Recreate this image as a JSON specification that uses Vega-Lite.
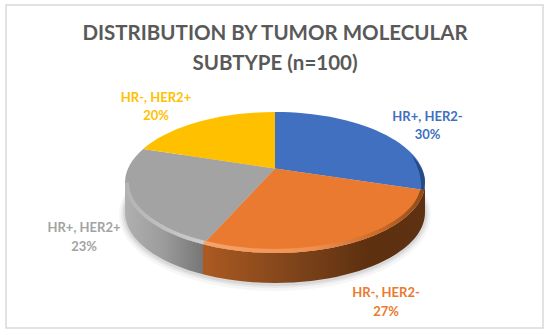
{"$schema":"https://vega.github.io/schema/vega-lite/v6.json","width":550,"height":336,"autosize":{"type":"none"},"padding":0,"background":"white","config":{"view":{"stroke":null}},
"title":{"text":["DISTRIBUTION BY TUMOR MOLECULAR","SUBTYPE (n=100)"],"anchor":"middle","frame":"group","orient":"top","offset":-90,"baseline":"alphabetic","font":"Lato","fontSize":20.5,"fontWeight":"bold","lineHeight":29.5,"color":"#595959"},
"data":{"values":[{"subtype":"HR+, HER2-","share":0.30},{"subtype":"HR-, HER2-","share":0.27},{"subtype":"HR+, HER2+","share":0.23},{"subtype":"HR-, HER2+","share":0.20}]},
"layer":[
{"data":{"values":[{"part":"frame"}]},"mark":{"type":"point","shape":"M-269,-163 L268,-163 L268,160 L-269,160 Z","size":4,"filled":false,"stroke":"#D9D9D9","strokeWidth":1.5,"opacity":1}},
{"data":{"values":[{"part":"shadow"}]},"mark":{"type":"point","shape":"M-156,47 C-156,5 -86.2,-29 0,-29 C86.2,-29 156,5 156,47 C156,89 86.2,123 0,123 C-86.2,123 -156,89 -156,47Z","size":4,"filled":true,"fill":"#000","opacity":0.035,"strokeWidth":0}},
{"data":{"values":[{"part":"shadow"}]},"mark":{"type":"point","shape":"M-154,46 C-154,5.1 -85.1,-28 0,-28 C85.1,-28 154,5.1 154,46 C154,86.9 85.1,120 0,120 C-85.1,120 -154,86.9 -154,46Z","size":4,"filled":true,"fill":"#000","opacity":0.05,"strokeWidth":0}},
{"data":{"values":[{"part":"shadow"}]},"mark":{"type":"point","shape":"M-152,45.5 C-152,5.5 -84,-27 0,-27 C84,-27 152,5.5 152,45.5 C152,85.5 84,118 0,118 C-84,118 -152,85.5 -152,45.5Z","size":4,"filled":true,"fill":"#000","opacity":0.07,"strokeWidth":0}},
{"transform":[{"filter":"datum.subtype==='HR+, HER2+'"}],"mark":{"type":"point","shape":"M-72,76.3 C-120.1,63.9 -150,40.3 -150,14.5 L-150,44.5 C-150,70.3 -120.1,93.9 -72,106.3 Z","size":4,"filled":true,"opacity":1,"strokeWidth":0,"fill":{"gradient":"linear","x1":0,"x2":1,"y1":0,"y2":0,"stops":[{"offset":0,"color":"#B0B0B0"},{"offset":0.5,"color":"#9B9B9B"},{"offset":1,"color":"#767676"}]}}},
{"transform":[{"filter":"datum.subtype==='HR-, HER2-'"}],"mark":{"type":"point","shape":"M150,14.5 C150,53.4 82.8,85 0,85 C-25.2,85 -49.9,82 -72,76.3 L-72,106.3 C-49.9,112 -25.2,115 0,115 C82.8,115 150,83.4 150,44.5 Z","size":4,"filled":true,"opacity":1,"strokeWidth":0,"fill":{"gradient":"linear","x1":0,"x2":1,"y1":0,"y2":0,"stops":[{"offset":0,"color":"#AC5A22"},{"offset":0.44,"color":"#7B4219"},{"offset":0.75,"color":"#5D3010"},{"offset":1,"color":"#5E3112"}]}}},
{"mark":{"type":"point","size":4,"filled":true,"opacity":1,"strokeWidth":0},"encoding":{"shape":{"field":"subtype","type":"nominal","legend":null,"scale":{"domain":["HR+, HER2-","HR-, HER2-","HR+, HER2+","HR-, HER2+"],"range":["M0,0.5 L0,-56 C82.8,-56 150,-24.4 150,14.5 L149.2,22 Z","M0,0.5 L149.2,22 C141.1,57.8 76.7,85 0,85 C-25.2,85 -49.9,82 -72,76.3 Z","M0,0.5 L-72,76.3 C-120.1,63.9 -150,40.3 -150,14.5 C-150,2.8 -143.7,-8.7 -131.9,-19 Z","M0,0.5 L-131.9,-19 C-105.7,-41.8 -55.1,-56 0,-56 Z"]}},"color":{"field":"subtype","type":"nominal","legend":null,"scale":{"domain":["HR+, HER2-","HR-, HER2-","HR+, HER2+","HR-, HER2+"],"range":["#4070BF","#EA7A30","#A3A3A3","#FFC000"]}}}},
{"transform":[{"filter":"datum.subtype==='HR+, HER2-'"}],"mark":{"type":"point","shape":"M136.7,-13 C145,-4 150,5 150,14.5 L149.2,22 L146,21.6 C147,10 143,-2 136.7,-13 Z","size":4,"filled":true,"opacity":1,"strokeWidth":0,"fill":"#264A86"}},
{"transform":[{"filter":"datum.subtype==='HR-, HER2-'"}],"mark":{"type":"point","shape":"M149.2,22 C141.1,57.8 76.7,85 0,85 C-25.2,85 -49.9,82 -72,76.3 L-70.1,72.8 C-48.6,78.2 -24.5,81 0,81 C74.7,81 137.3,55.3 145.2,21.6 Z","size":4,"filled":true,"opacity":1,"strokeWidth":0,"fill":{"gradient":"linear","x1":0,"x2":1,"y1":0,"y2":0,"stops":[{"offset":0,"color":"#F4A46C"},{"offset":0.5,"color":"#F09050"},{"offset":0.8,"color":"#C86A28"},{"offset":1,"color":"#8B4A1A"}]}}},
{"transform":[{"filter":"datum.subtype==='HR+, HER2+'"}],"mark":{"type":"point","shape":"M-72,76.3 C-120.1,63.9 -150,40.3 -150,14.5 L-146,14.5 C-146,38.8 -116.9,61.1 -70.1,72.8 Z","size":4,"filled":true,"opacity":1,"strokeWidth":0,"fill":{"gradient":"linear","x1":0,"x2":1,"y1":0,"y2":0,"stops":[{"offset":0,"color":"#B3B3B3"},{"offset":1,"color":"#CDCDCD"}]}}},
{"mark":{"type":"text","font":"Lato","fontWeight":"bold","fontSize":13,"align":"center","baseline":"middle"},"encoding":{"text":{"field":"subtype"},"x":{"field":"share","type":"quantitative","axis":null,"scale":{"domain":[0.20,0.23,0.27,0.30],"range":[156,84,386,427.5]}},"y":{"field":"share","type":"quantitative","axis":null,"scale":{"domain":[0.20,0.23,0.27,0.30],"range":[97.5,228,293,116.5]}},"color":{"field":"subtype","type":"nominal","legend":null,"scale":{"domain":["HR+, HER2-","HR-, HER2-","HR+, HER2+","HR-, HER2+"],"range":["#4070BF","#EA7A30","#A3A3A3","#FFC000"]}}}},
{"mark":{"type":"text","font":"Lato","fontWeight":"bold","fontSize":13,"align":"center","baseline":"middle","dy":18.5},"encoding":{"text":{"field":"share","type":"quantitative","format":".0%"},"x":{"field":"share","type":"quantitative","axis":null,"scale":{"domain":[0.20,0.23,0.27,0.30],"range":[156,84,386,427.5]}},"y":{"field":"share","type":"quantitative","axis":null,"scale":{"domain":[0.20,0.23,0.27,0.30],"range":[97.5,228,293,116.5]}},"color":{"field":"subtype","type":"nominal","legend":null,"scale":{"domain":["HR+, HER2-","HR-, HER2-","HR+, HER2+","HR-, HER2+"],"range":["#4070BF","#EA7A30","#A3A3A3","#FFC000"]}}}}
]}
